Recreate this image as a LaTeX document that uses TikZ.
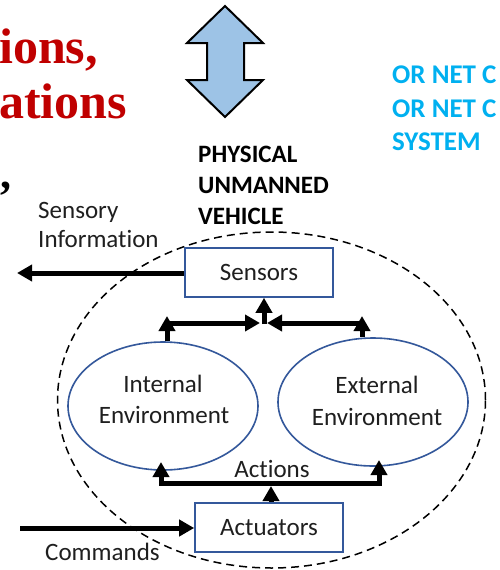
\documentclass[tikz,border=0pt]{standalone}
\usepackage{fontspec}
\setmainfont{Carlito}[Ligatures=NoCommon]
\newfontfamily\redserif{Liberation Serif}
\usetikzlibrary{arrows.meta,shapes.geometric}
\definecolor{boxblue}{RGB}{52,88,155}
\definecolor{arrowblue}{RGB}{157,195,230}
\definecolor{titlered}{RGB}{192,0,0}
\definecolor{cyantext}{RGB}{0,176,240}
\tikzset{
  lbl/.style={inner sep=0pt, font=\fontsize{25}{30}\selectfont, text=black!88},
  hdr/.style={inner sep=0pt, font=\bfseries\fontsize{25}{30}\selectfont},
  cyanlbl/.style={inner sep=0pt, text=cyantext, font=\bfseries\fontsize{27}{32}\selectfont},
  redlbl/.style={inner sep=0pt, text=titlered, font=\redserif\bfseries\fontsize{50}{54}\selectfont},
  bluebox/.style={draw=boxblue, line width=1.6pt, minimum width=148pt, minimum height=49pt, inner sep=0pt, font=\fontsize{25}{30}\selectfont, text=black!88},
  env/.style={ellipse, draw=boxblue, line width=1.6pt, minimum width=190pt, minimum height=128pt, inner sep=0pt},
  thickline/.style={line width=5pt},
  arr/.style={line width=5pt, line join=miter, -{Triangle[length=15pt,width=16pt]}},
  dblarr/.style={line width=5pt, line join=miter, {Triangle[length=15pt,width=16pt]}-{Triangle[length=15pt,width=16pt]}}
}
\begin{document}
\begin{tikzpicture}[x=1pt,y=-1pt]
\useasboundingbox (0,0) rectangle (500,570);
\fill[white] (0,0) rectangle (500,570);

% red title fragments
\node[redlbl, anchor=base west] (t1) at (-1,63) {ions,};
\node[redlbl, anchor=base west] (t2) at (-1,118) {ations};
\node[inner sep=0pt, font=\redserif\bfseries\fontsize{44}{50}\selectfont, anchor=base west] (t3) at (0,188) {,};

% big double arrow
\draw[fill=arrowblue, line width=2pt, line join=miter]
  (225,6) -- (263,43) -- (244,43) -- (244,80) -- (263,80) -- (225,117)
  -- (187,80) -- (207,80) -- (207,43) -- (187,43) -- cycle;

% header
\node[hdr, anchor=base west] (h1) at (198,162) {PHYSICAL};
\node[hdr, anchor=base west] (h2) at (198,193) {UNMANNED};
\node[hdr, anchor=base west] (h3) at (198,224) {VEHICLE};

% cyan text
\node[cyanlbl, anchor=base west] (c1) at (392,83) {OR NET C};
\node[cyanlbl, anchor=base west] (c2) at (392,117) {OR NET C};
\node[cyanlbl, anchor=base west] (c3) at (392,150) {SYSTEM};

% dashed boundary
\node[ellipse, draw, dashed, dash pattern=on 8pt off 5pt, line width=1.5pt,
      minimum width=428pt, minimum height=336pt, inner sep=0pt] (bound) at (271.5,400) {};

% boxes
\node[bluebox] (sensors) at (259,272.5) {Sensors};
\node[bluebox] (actuators) at (269,527.5) {Actuators};

% environments
\node[env] (int) at (163,406) {};
\node[env] (ext) at (373,402) {};
\node[lbl, anchor=base] (intl1) at (163,392) {Internal};
\node[lbl, anchor=base] (intl2) at (164,423) {Environment};
\node[lbl, anchor=base] (extl1) at (377,393) {External};
\node[lbl, anchor=base] (extl2) at (377,425) {Environment};

% side labels
\node[lbl, anchor=base west] (sens1) at (38,218) {Sensory};
\node[lbl, anchor=base west] (sens2) at (38,247) {Information};
\node[lbl, anchor=base west] (cmd) at (45,560) {Commands};
\node[lbl, anchor=base] (act) at (272,477) {Actions};

% coordinates
\coordinate (infoEnd) at (17,273);
\coordinate (cmdStart) at (20,528);
\coordinate (fl) at (167,323);
\coordinate (flt) at (167,316);
\coordinate (fr) at (362,323);
\coordinate (frt) at (362,316);
\coordinate (jl) at (260,323);
\coordinate (jr) at (267,323);
\coordinate (jn) at (264,324);
\coordinate (al) at (161,483);
\coordinate (ar) at (379,483);
\coordinate (alt) at (161,462);
\coordinate (art) at (379,460);
\coordinate (ac) at (271,486);

% connectors
\draw[arr] (sensors.west |- infoEnd) -- (infoEnd);
\draw[arr] (cmdStart) -- (actuators.west |- cmdStart);

\draw[thickline] (fl |- int.north) -- (fl);
\draw[arr] (fl) -- (flt);
\draw[arr] ([xshift=-2.5pt]fl) -- (jl);
\draw[thickline] (fr |- ext.north) -- (fr);
\draw[arr] (fr) -- (frt);
\draw[arr] ([xshift=2.5pt]fr) -- (jr);
\draw[arr] (jn) -- (jn |- sensors.south);

\draw[dblarr] (alt) -- (al) -- (ar) -- (art);
\draw[arr] (ac |- actuators.north) -- (ac);
\end{tikzpicture}
\end{document}
